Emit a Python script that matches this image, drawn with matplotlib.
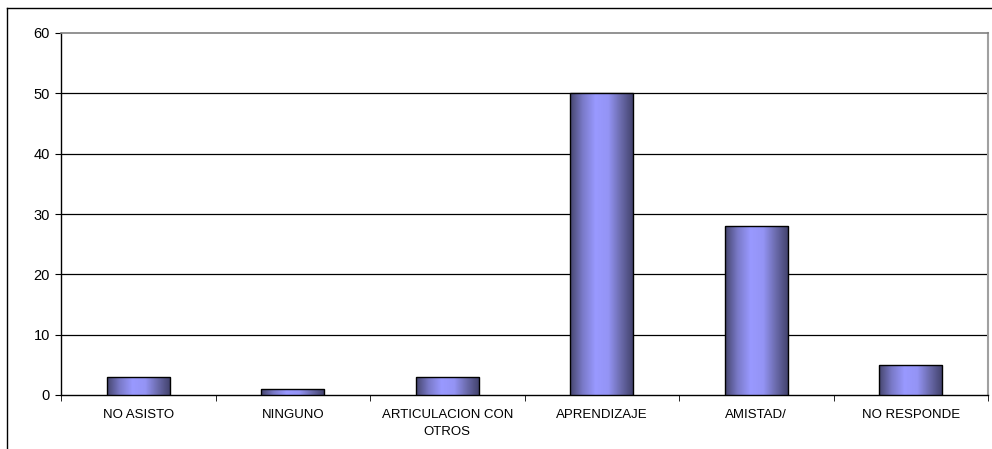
import numpy as np
import matplotlib
matplotlib.use("Agg")
from matplotlib import pyplot as plt
from matplotlib.colors import LinearSegmentedColormap
from matplotlib.lines import Line2D
from matplotlib.patches import Rectangle

categories = ["NO ASISTO", "NINGUNO", "ARTICULACION CON\nOTROS", "APRENDIZAJE", "AMISTAD/", "NO RESPONDE"]
values = [3, 1, 3, 50, 28, 5]
y_ticks = [0, 10, 20, 30, 40, 50, 60]

plt.rcParams['font.family'] = ['Liberation Sans', 'DejaVu Sans']

W, H = 992, 449
fig = plt.figure(figsize=(W / 100, H / 100), dpi=100)
ax = fig.add_axes([61 / W, 1 - 395 / H, (988 - 61) / W, (395 - 33) / H])

# horizontal shading like the old spreadsheet bars
shade = LinearSegmentedColormap.from_list(
    "shade", ["#45456e", "#7a7ac8", "#9999ff", "#9494f5", "#6a6aaa", "#40406a"])
grad = np.linspace(0, 1, 256).reshape(1, -1)

x = np.arange(len(categories))
width = 0.41
for xi, v in zip(x, values):
    left = xi - width / 2
    im = ax.imshow(grad, cmap=shade, aspect='auto',
                   extent=(left, left + width, 0, v), zorder=3)
    rect = Rectangle((left, 0), width, v, facecolor='none',
                     edgecolor='black', lw=1.0, zorder=4)
    ax.add_patch(rect)
    im.set_clip_path(rect)

ax.set_xlim(-0.5, len(categories) - 0.5)
ax.set_ylim(0, 60)
ax.set_yticks(y_ticks)
ax.set_yticklabels([str(t) for t in y_ticks], fontsize=10.5)
for t in y_ticks[1:-1]:
    ax.axhline(t, color='black', lw=0.9, zorder=1)

ax.set_xticks(x)
ax.set_xticklabels(categories, fontsize=9.5, linespacing=1.55)
ax.set_xticks(np.arange(len(categories) + 1) - 0.5, minor=True)
ax.tick_params(axis='x', which='major', length=0, pad=10)
ax.tick_params(axis='x', which='minor', length=4, direction='out', color='black')
ax.tick_params(axis='y', length=4, direction='out', pad=4)

for s in ['left', 'bottom']:
    ax.spines[s].set_color('black')
    ax.spines[s].set_linewidth(1.0)
ax.spines['top'].set_color('#808080')
ax.spines['top'].set_linewidth(1.2)
ax.spines['right'].set_color('#a0a0a0')
ax.spines['right'].set_linewidth(1.5)

# outer frame of the chart object
fig.add_artist(Line2D([7 / W, 1], [1 - 8 / H, 1 - 8 / H], color='black', lw=1.0))
fig.add_artist(Line2D([7 / W, 7 / W], [0, 1 - 8 / H], color='black', lw=1.0))

fig.savefig("out.png", dpi=100)
